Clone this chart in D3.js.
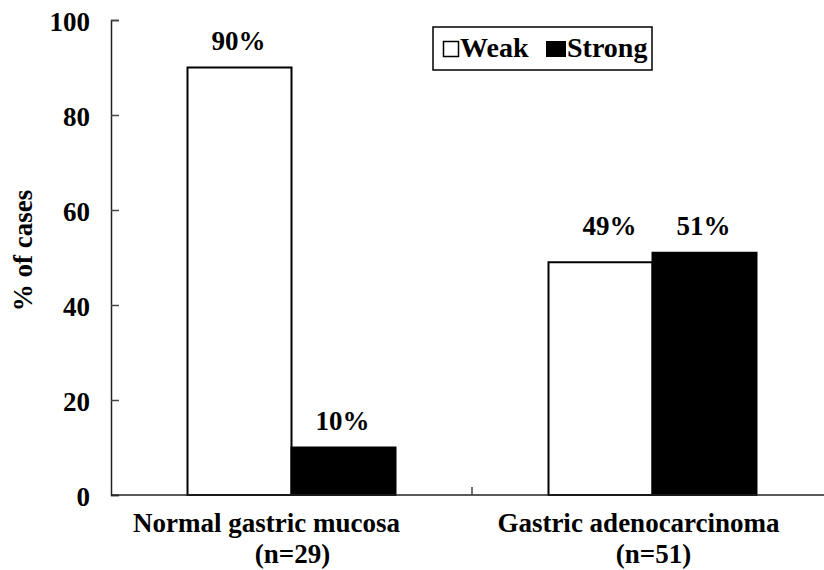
<!DOCTYPE html>
<html>
<head>
<meta charset="utf-8">
<script src="https://cdn.jsdelivr.net/npm/d3@7"></script>
</head>
<body style="margin:0; background:#fff">
<svg id="fig" width="824" height="570"></svg>
<script>
const categories = ['Normal gastric mucosa', 'Gastric adenocarcinoma']
const sampleSizes = ['(n=29)', '(n=51)']
const seriesNames = ['Weak', 'Strong']
const weakValues = [90, 49]
const strongValues = [10, 51]
const yTicks = [0, 20, 40, 60, 80, 100]

const FONT = 'Times New Roman, Liberation Serif, serif'

let size = {width: 824, height: 570}
let margin = {top: 20, right: -9, bottom: 75, left: 111}
const innerWidth = size.width - margin.left - margin.right
const innerHeight = size.height - margin.top - margin.bottom

const svg = d3.select('#fig')
    .style('font-family', FONT)
    .style('font-weight', 'bold')

// every text gets the serif bold font
const styleText = (sel, px) => sel
    .style('font', `bold ${px}px ${FONT}`)
    .attr('fill', '#000')

const g = svg.append('g')
    .attr('transform', `translate(${margin.left}, ${margin.top})`)

const data = categories.map((c, i) => ({cat: c, Weak: weakValues[i], Strong: strongValues[i]}))

const xScale = d3.scaleBand()
    .domain(categories)
    .range([0, innerWidth])

const subScale = d3.scaleBand()
    .domain(seriesNames)
    .range([0, 208])

const yScale = d3.scaleLinear()
    .domain([0, 100])
    .range([innerHeight, 0])

// y axis
const yAxis = d3.axisRight(yScale)
    .tickValues(yTicks)
    .tickSize(8)
    .tickFormat(d3.format('d'))
const yAxisG = g.append('g').call(yAxis).attr('font-family', null).attr('font-size', null)
yAxisG.select('.domain').attr('stroke', '#222').attr('stroke-width', 1.5)
yAxisG.selectAll('.tick line').attr('stroke', '#444').attr('stroke-width', 1.5)
yAxisG.selectAll('.tick text')
    .attr('x', -21)
    .attr('dy', 10)
    .attr('text-anchor', 'end')
    .call(styleText, 27)

// bars
const groups = g.selectAll('.grp')
    .data(data)
    .join('g')
    .attr('transform', d => `translate(${xScale(d.cat) + xScale.bandwidth() / 2 - 104}, 0)`)

groups.selectAll('rect')
    .data(d => seriesNames.map(s => ({key: s, value: d[s]})))
    .join('rect')
    .attr('x', d => subScale(d.key))
    .attr('y', d => yScale(d.value))
    .attr('width', subScale.bandwidth())
    .attr('height', d => innerHeight - yScale(d.value))
    .attr('fill', d => d.key === 'Weak' ? '#fff' : '#000')
    .attr('stroke', '#000')
    .attr('stroke-width', 2)

// value labels; close pairs share the same height
groups.selectAll('.val')
    .data(d => {
        const close = Math.abs(d.Weak - d.Strong) < 5
        const top = Math.max(d.Weak, d.Strong)
        return seriesNames.map(s => ({key: s, value: d[s], labelAt: close ? top : d[s], close}))
    })
    .join('text')
    .attr('class', 'val')
    .attr('x', d => subScale(d.key) + subScale.bandwidth() / 2 - 1 + (d.close && d.key === 'Weak' ? 10 : 0))
    .attr('y', d => yScale(d.labelAt) - 18)
    .attr('text-anchor', 'middle')
    .call(styleText, 27)
    .text(d => d.value + '%')

// x axis
const xAxisG = g.append('g')
    .attr('transform', `translate(0, ${innerHeight})`)
xAxisG.append('line')
    .attr('x1', 0).attr('x2', size.width - margin.left)
    .attr('stroke', '#222').attr('stroke-width', 1.5)
xAxisG.append('line')
    .attr('x1', xScale(categories[1])).attr('x2', xScale(categories[1]))
    .attr('y1', 0).attr('y2', -8)
    .attr('stroke', '#444').attr('stroke-width', 1.5)

// first line sits a bit left of the band centre, as in the original
const lineShift = [-25, -14]
categories.forEach((c, i) => {
    const cx = xScale(c) + xScale.bandwidth() / 2
    xAxisG.append('text')
        .attr('x', cx + lineShift[i]).attr('y', 37)
        .attr('text-anchor', 'middle')
        .call(styleText, 27)
        .text(c)
    xAxisG.append('text')
        .attr('x', cx + 1).attr('y', 68)
        .attr('text-anchor', 'middle')
        .call(styleText, 27)
        .text(sampleSizes[i])
})

// y label
svg.append('text')
    .attr('transform', `translate(32, ${margin.top + innerHeight / 2 - 7}) rotate(-90)`)
    .attr('text-anchor', 'middle')
    .call(styleText, 27)
    .text('% of cases')

// legend
const legend = svg.append('g').attr('transform', 'translate(433, 27)')
legend.append('rect')
    .attr('width', 219).attr('height', 43)
    .attr('fill', '#fff').attr('stroke', '#000').attr('stroke-width', 1.5)
legend.append('rect')
    .attr('x', 10.5).attr('y', 14.5).attr('width', 15).attr('height', 15)
    .attr('fill', '#fff').attr('stroke', '#000').attr('stroke-width', 1.5)
legend.append('text')
    .attr('x', 27).attr('y', 30)
    .call(styleText, 28)
    .text(seriesNames[0])
legend.append('rect')
    .attr('x', 113).attr('y', 14).attr('width', 20).attr('height', 16)
    .attr('fill', '#000')
legend.append('text')
    .attr('x', 134).attr('y', 30)
    .call(styleText, 28)
    .text(seriesNames[1])
</script>
</body>
</html>
